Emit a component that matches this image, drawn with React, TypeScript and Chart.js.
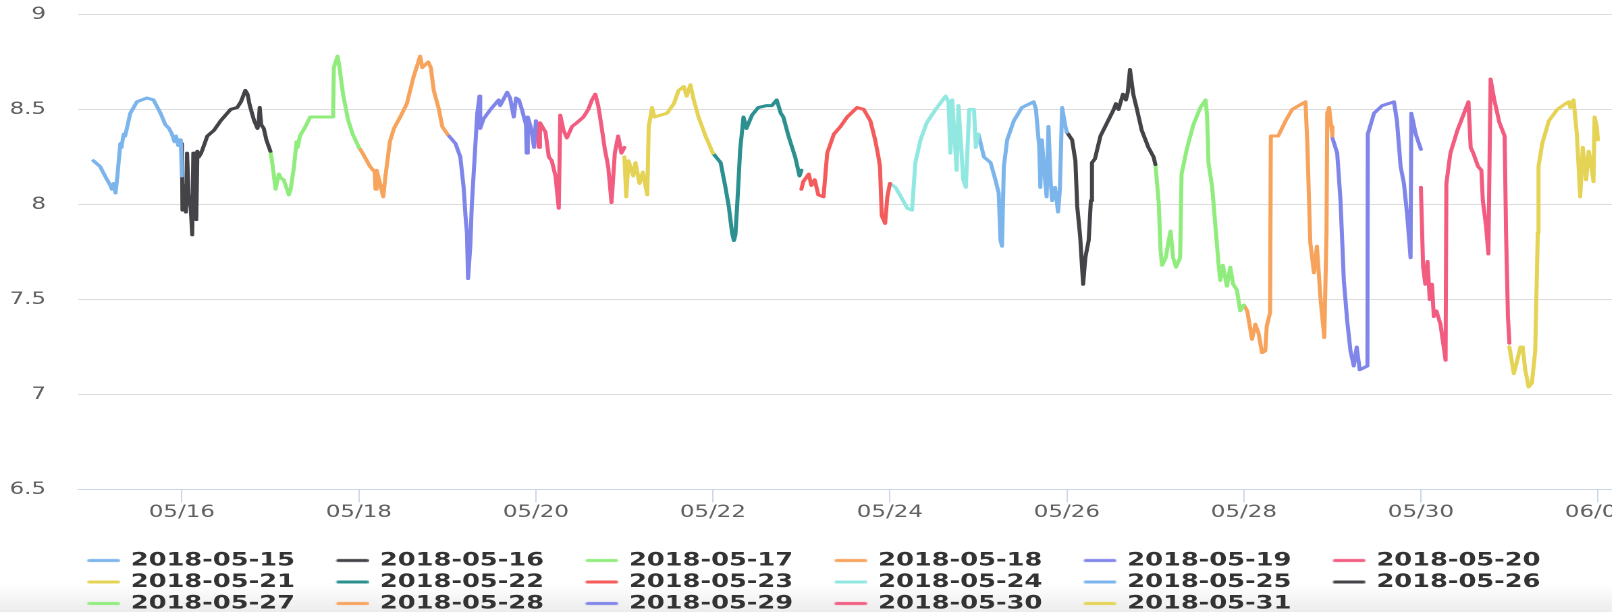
import React, { useEffect, useRef } from 'react';
import { Chart, registerables } from 'chart.js';

Chart.register(...registerables);

// ---------- data ----------
const seriesNames = [
  '2018-05-15', '2018-05-16', '2018-05-17', '2018-05-18', '2018-05-19', '2018-05-20',
  '2018-05-21', '2018-05-22', '2018-05-23', '2018-05-24', '2018-05-25', '2018-05-26',
  '2018-05-27', '2018-05-28', '2018-05-29', '2018-05-30', '2018-05-31',
];

const seriesColors = [
  '#7cb5ec', '#434348', '#90ed7d', '#f7a35c', '#8085e9', '#f15c80',
  '#e4d354', '#2b908f', '#f45b5b', '#91e8e1', '#7cb5ec', '#434348',
  '#90ed7d', '#f7a35c', '#8085e9', '#f15c80', '#e4d354',
];

// [hour of day, pH value]
const day15: [number, number][] = [
  [0, 8.23], [1.8, 8.2], [3.7, 8.13], [4.6, 8.1], [5, 8.08], [5.5, 8.11], [6, 8.06], [6.5, 8.15],
  [7.3, 8.32], [7.6, 8.3], [8.2, 8.37], [8.6, 8.36], [10, 8.48], [11.8, 8.54], [14.5, 8.56],
  [16.3, 8.55], [18.2, 8.48], [19.5, 8.42], [20.5, 8.4], [21.3, 8.37], [22, 8.33], [22.4, 8.36],
  [23, 8.31], [23.4, 8.34], [23.7, 8.33], [24, 8.15],
];
const day16: [number, number][] = [
  [0, 8.32], [0.15, 7.97], [0.5, 7.98], [0.8, 8.1], [1.1, 7.96], [1.4, 8.27], [1.8, 8.05],
  [2.4, 7.98], [2.8, 7.84], [3.1, 8.27], [3.5, 8.27], [3.9, 7.92], [4.2, 8.28], [4.6, 8.25],
  [5.2, 8.27], [5.6, 8.29], [6.9, 8.36], [8.7, 8.39], [10.5, 8.44], [13.2, 8.5], [15, 8.51],
  [16, 8.54], [17.2, 8.6], [17.8, 8.58], [18.3, 8.53], [19, 8.48], [19.6, 8.44], [20.5, 8.4],
  [20.8, 8.43], [21.1, 8.51], [21.5, 8.42], [22.2, 8.4], [22.9, 8.34], [24, 8.28],
];
const day17: [number, number][] = [
  [0, 8.28], [0.5, 8.22], [1.4, 8.08], [2.3, 8.16], [2.8, 8.14], [3.6, 8.13], [4.5, 8.08],
  [5, 8.05], [5.5, 8.08], [6.4, 8.2], [7.1, 8.33], [7.4, 8.3], [8, 8.36], [9.5, 8.41],
  [10.8, 8.46], [17, 8.46], [17.2, 8.72], [18.2, 8.78], [18.6, 8.74], [19.7, 8.58], [21, 8.45],
  [22.3, 8.37], [24, 8.3],
];
const day18: [number, number][] = [
  [0, 8.3], [1, 8.27], [3, 8.2], [4.3, 8.17], [4.5, 8.08], [4.8, 8.18], [5.6, 8.12], [6.6, 8.04],
  [7.2, 8.15], [8.4, 8.33], [9.5, 8.4], [11.2, 8.46], [13, 8.53], [14.8, 8.67], [16.6, 8.78],
  [17.2, 8.72], [18.8, 8.75], [19.5, 8.72], [20.3, 8.6], [21.7, 8.5], [22.6, 8.41], [24, 8.37],
];
const day19: [number, number][] = [
  [0, 8.37], [2.2, 8.32], [3.5, 8.25], [4.4, 8.09], [4.9, 7.94], [5.3, 7.85], [5.6, 7.61],
  [6.2, 7.78], [6.6, 7.99], [7.6, 8.32], [8.1, 8.48], [8.7, 8.57], [8.9, 8.4], [9.8, 8.45],
  [11.7, 8.5], [13.9, 8.55], [14.3, 8.52], [16.2, 8.59], [17, 8.56], [18, 8.46], [18.6, 8.56],
  [19.4, 8.55], [20.2, 8.5], [21.3, 8.42], [21.5, 8.27], [21.8, 8.46], [22.7, 8.4], [23.5, 8.3],
  [24, 8.44],
];
const day20: [number, number][] = [
  [0, 8.44], [0.8, 8.3], [1.1, 8.43], [2.6, 8.38], [3.5, 8.25], [4.3, 8.23], [5.3, 8.15],
  [6.2, 7.98], [6.6, 8.47], [7.5, 8.39], [8.4, 8.35], [9.8, 8.41], [11.1, 8.43], [12.9, 8.46],
  [14.2, 8.5], [15.2, 8.55], [16.1, 8.58], [16.9, 8.52], [17.8, 8.41], [18.7, 8.29], [19.6, 8.2],
  [20.5, 8.01], [21.4, 8.27], [22.3, 8.36], [23.2, 8.27], [24, 8.3],
];
const day21: [number, number][] = [
  [0, 8.25], [0.5, 8.04], [1.1, 8.23], [2.4, 8.15], [3, 8.22], [4.1, 8.11], [5, 8.17], [6.2, 8.05],
  [6.6, 8.41], [7.5, 8.51], [8.1, 8.46], [9.8, 8.47], [11.6, 8.48], [13.4, 8.53], [14.7, 8.6],
  [16.1, 8.62], [16.9, 8.57], [17.9, 8.63], [18.8, 8.55], [20.1, 8.46], [22, 8.36], [24, 8.27],
];
const day22: [number, number][] = [
  [0, 8.27], [2.1, 8.22], [3.4, 8.09], [4.3, 7.99], [5.2, 7.85], [5.7, 7.81], [6.1, 7.84],
  [6.6, 8.0], [7.4, 8.29], [8.3, 8.46], [9.1, 8.4], [10.6, 8.47], [12.3, 8.51], [14.6, 8.52],
  [16, 8.52], [17.3, 8.55], [18.4, 8.48], [19.1, 8.46], [20.5, 8.36], [22.3, 8.25], [23.5, 8.15],
  [24, 8.18],
];
const day23: [number, number][] = [
  [0, 8.08], [0.5, 8.12], [2, 8.16], [2.7, 8.1], [3.6, 8.13], [4.6, 8.05], [6, 8.04], [7, 8.27],
  [8.8, 8.37], [10.6, 8.41], [12.4, 8.46], [15.1, 8.51], [16.9, 8.5], [18.7, 8.44], [20, 8.34],
  [20.9, 8.25], [21.3, 8.2], [21.8, 7.94], [22.7, 7.9], [23.3, 8.04], [24, 8.11],
];
const day24: [number, number][] = [
  [0, 8.11], [1.5, 8.09], [3, 8.04], [4.7, 7.98], [6, 7.97], [6.9, 8.22], [8.3, 8.34], [10, 8.43],
  [12.4, 8.5], [15.1, 8.57], [15.9, 8.54], [16.4, 8.27], [16.9, 8.55], [18.1, 8.18], [18.6, 8.52],
  [19.9, 8.13], [20.6, 8.09], [21.5, 8.5], [22.8, 8.5], [23.3, 8.3], [24, 8.37],
];
const day25: [number, number][] = [
  [0, 8.37], [1.5, 8.25], [3.3, 8.22], [4.6, 8.13], [5.5, 8.06], [6, 7.81], [6.4, 7.78],
  [6.9, 8.2], [7.8, 8.34], [9.6, 8.44], [11.8, 8.51], [15, 8.54], [15.6, 8.5], [16.5, 8.3],
  [16.8, 8.09], [17.2, 8.34], [18.2, 8.1], [18.5, 8.04], [19, 8.41], [19.6, 8.12], [20, 8.02],
  [20.8, 8.09], [21.6, 7.96], [22.1, 8.08], [22.7, 8.51], [23.6, 8.41], [24, 8.38],
];
const day26: [number, number][] = [
  [0, 8.38], [1.4, 8.34], [2.3, 8.23], [2.8, 7.99], [3.6, 7.83], [4.4, 7.58], [5, 7.72],
  [5.9, 7.81], [6.5, 8.02], [6.8, 8.22], [7.6, 8.24], [9.1, 8.36], [10.9, 8.43], [12.7, 8.5],
  [13.3, 8.53], [14, 8.5], [15.2, 8.58], [16, 8.55], [16.5, 8.59], [17.1, 8.71], [18, 8.58],
  [19, 8.5], [20.3, 8.39], [22.1, 8.3], [23.5, 8.25], [24, 8.21],
];
const day27: [number, number][] = [
  [0, 8.21], [0.9, 8.01], [1.4, 7.76], [1.8, 7.68], [2.8, 7.72], [3.6, 7.81], [4.1, 7.86],
  [4.8, 7.72], [5.6, 7.67], [6.7, 7.72], [7.1, 8.16], [8.5, 8.29], [10.3, 8.42], [12.2, 8.51],
  [13.6, 8.55], [14, 8.47], [14.4, 8.22], [15.4, 8.09], [16.3, 7.88], [17.2, 7.67], [17.6, 7.6],
  [18.3, 7.68], [19.4, 7.57], [20.3, 7.67], [21.1, 7.58], [22.1, 7.55], [23, 7.44], [24, 7.47],
];
const day28: [number, number][] = [
  [0, 7.47], [0.9, 7.44], [2.2, 7.29], [3.1, 7.37], [4, 7.32], [4.9, 7.22], [5.8, 7.23],
  [6.2, 7.36], [7.1, 7.43], [7.3, 8.36], [9.3, 8.36], [9.8, 8.38], [11.3, 8.44], [13.1, 8.5],
  [14.9, 8.52], [16.7, 8.54], [17.2, 8.32], [18, 7.8], [19, 7.64], [19.8, 7.78], [20.8, 7.5],
  [21.8, 7.3], [22.4, 7.85], [22.6, 8.48], [23.1, 8.51], [23.7, 8.41], [24, 8.36],
];
const day29: [number, number][] = [
  [0, 8.35], [1.3, 8.27], [2.2, 8.02], [3.1, 7.6], [4, 7.39], [4.9, 7.23], [5.8, 7.15],
  [6.6, 7.25], [7.4, 7.13], [9.5, 7.15], [9.6, 8.37], [11.3, 8.48], [13.5, 8.52], [16.7, 8.54],
  [17.5, 8.44], [18.5, 8.2], [19.4, 8.11], [20.3, 7.94], [21.2, 7.72], [21.4, 8.48], [22.6, 8.37],
  [24, 8.29],
];
const day30: [number, number][] = [
  [0, 8.09], [0.6, 7.67], [1.2, 7.58], [1.8, 7.7], [2.4, 7.5], [3, 7.58], [3.5, 7.41], [4.2, 7.44],
  [5.3, 7.37], [6.7, 7.18], [6.9, 8.11], [8, 8.27], [9.9, 8.39], [11.7, 8.48], [12.9, 8.54],
  [13.5, 8.3], [14.2, 8.27], [15.5, 8.2], [16.4, 8.18], [16.8, 8.02], [17.7, 7.88], [18.3, 7.74],
  [18.9, 8.66], [19.9, 8.55], [21.3, 8.43], [22.7, 8.36], [23.1, 7.85], [23.6, 7.41], [24, 7.27],
];
const day31: [number, number][] = [
  [0, 7.25], [1.2, 7.11], [2, 7.17], [3, 7.25], [3.6, 7.25], [4.3, 7.13], [5.2, 7.04], [6.1, 7.06],
  [7, 7.23], [7.7, 7.85], [7.9, 8.2], [8.9, 8.32], [10.7, 8.44], [13, 8.5], [15.2, 8.53],
  [16.1, 8.54], [16.5, 8.51], [17.4, 8.55], [18.3, 8.37], [19.2, 8.04], [19.9, 8.3], [20.8, 8.13],
  [21.5, 8.28], [22.1, 8.22], [22.8, 8.12], [23.1, 8.46], [23.7, 8.41], [24, 8.34],
];

const seriesPoints = [
  day15, day16, day17, day18, day19, day20, day21, day22, day23,
  day24, day25, day26, day27, day28, day29, day30, day31,
];

const tickDates = [
  '2018-05-16', '2018-05-18', '2018-05-20', '2018-05-22', '2018-05-24',
  '2018-05-26', '2018-05-28', '2018-05-30', '2018-06-01',
];
const tickLabels = ['05/16', '05/18', '05/20', '05/22', '05/24', '05/26', '05/28', '05/30', '06/01'];

const yMin = 6.5;
const yMax = 9;
const yStep = 0.5;

// ---------- layout helpers ----------
const STRETCH = 1.35;
const INNER_W = 1259;
const INNER_H = 623;
const HOUR = 3600000;
const dayStart = (iso: string) => Date.parse(iso + 'T00:00:00Z');
const xMin = Date.UTC(2018, 4, 14, 19, 50);
const xMax = Date.UTC(2018, 5, 1, 4, 10);

const SWATCH_BOX = 51;
const LEGEND_LEFT = 33.9;

function makeSwatch(color: string): HTMLCanvasElement {
  const c = document.createElement('canvas');
  c.width = 54;
  c.height = 5;
  const g = c.getContext('2d')!;
  g.strokeStyle = color;
  g.lineWidth = 3.2;
  g.lineCap = 'round';
  g.beginPath();
  g.moveTo(54 - 24.4 + 1.6, 2.5);
  g.lineTo(54 - 1.6, 2.5);
  g.stroke();
  return c;
}

const legendShift = {
  id: 'legendShift',
  afterLayout(chart: any) {
    if (chart.legend) {
      chart.legend.left = LEGEND_LEFT;
    }
  },
};

export default function App() {
  const ref = useRef<HTMLCanvasElement>(null);

  useEffect(() => {
    const canvas = ref.current;
    if (!canvas) return;
    const swatches = seriesColors.map(makeSwatch);
    const tickValues = tickDates.map(dayStart);

    const datasets = seriesNames.map((name, i) => ({
      label: name,
      data: seriesPoints[i].map(([h, v]) => ({ x: dayStart(name) + h * HOUR, y: v })),
      borderColor: seriesColors[i],
      backgroundColor: seriesColors[i],
      borderWidth: 3,
      pointRadius: 0,
      pointHoverRadius: 0,
      tension: 0,
      fill: false,
      borderJoinStyle: 'round' as const,
      borderCapStyle: 'round' as const,
    }));

    const tickFont = { family: 'DejaVu Sans', size: 17 };

    const chart = new Chart(canvas, {
      type: 'line',
      data: { datasets },
      plugins: [legendShift],
      options: {
        animation: false,
        responsive: true,
        maintainAspectRatio: false,
        devicePixelRatio: 2,
        events: [],
        layout: { padding: { left: 0, right: 64, top: 14.4, bottom: 0 } },
        scales: {
          x: {
            type: 'linear',
            min: xMin,
            max: xMax,
            afterBuildTicks: (scale: any) => {
              scale.ticks = tickValues.map((v) => ({ value: v }));
            },
            afterFit: (scale: any) => {
              scale.height = 59;
            },
            ticks: {
              autoSkip: false,
              maxRotation: 0,
              padding: 0,
              color: '#606060',
              font: tickFont,
              callback: (value: any) => {
                const i = tickValues.indexOf(Number(value));
                return i >= 0 ? tickLabels[i] : '';
              },
            },
            grid: {
              display: true,
              drawOnChartArea: false,
              drawTicks: true,
              tickLength: 13,
              color: '#ccd6eb',
              lineWidth: 1,
            },
            border: { display: true, color: '#ccd6eb', width: 1 },
          },
          y: {
            type: 'linear',
            min: yMin,
            max: yMax,
            afterFit: (scale: any) => {
              scale.width = 57.8;
              scale.paddingTop = 0;
              scale.paddingBottom = 0;
            },
            ticks: {
              stepSize: yStep,
              padding: 23.7,
              color: '#606060',
              font: tickFont,
              callback: (value: any) => String(Math.round(Number(value) * 10) / 10),
            },
            grid: {
              drawTicks: false,
              lineWidth: 1,
              color: (ctx: any) =>
                ctx.tick && ctx.tick.value === yMin ? 'rgba(0,0,0,0)' : '#dcdcdc',
            },
            border: { display: false },
          },
        },
        plugins: {
          tooltip: { enabled: false },
          legend: {
            display: true,
            position: 'bottom',
            align: 'start',
            labels: {
              usePointStyle: true,
              pointStyleWidth: SWATCH_BOX,
              boxHeight: 3,
              padding: 2.5,
              color: '#333333',
              font: { family: 'DejaVu Sans', size: 19, weight: 'bold' },
              generateLabels: (ch: any) =>
                ch.data.datasets.map((ds: any, i: number) => ({
                  text: ds.label,
                  fillStyle: ds.borderColor,
                  strokeStyle: ds.borderColor,
                  fontColor: '#333333',
                  lineWidth: 0,
                  pointStyle: swatches[i],
                  hidden: false,
                  datasetIndex: i,
                })),
            },
          },
        },
      } as any,
    });

    return () => chart.destroy();
  }, []);

  return (
    <div
      style={{
        position: 'fixed',
        left: 0,
        top: 0,
        width: 1612,
        height: 612,
        overflow: 'hidden',
        background: 'linear-gradient(to bottom, #ffffff 0px, #ffffff 584px, #ececec 612px)',
      }}
    >
      <div
        style={{
          width: INNER_W,
          height: INNER_H,
          transform: `scaleX(${STRETCH})`,
          transformOrigin: '0 0',
        }}
      >
        <div style={{ position: 'relative', width: INNER_W, height: INNER_H }}>
          <canvas ref={ref} />
        </div>
      </div>
    </div>
  );
}
